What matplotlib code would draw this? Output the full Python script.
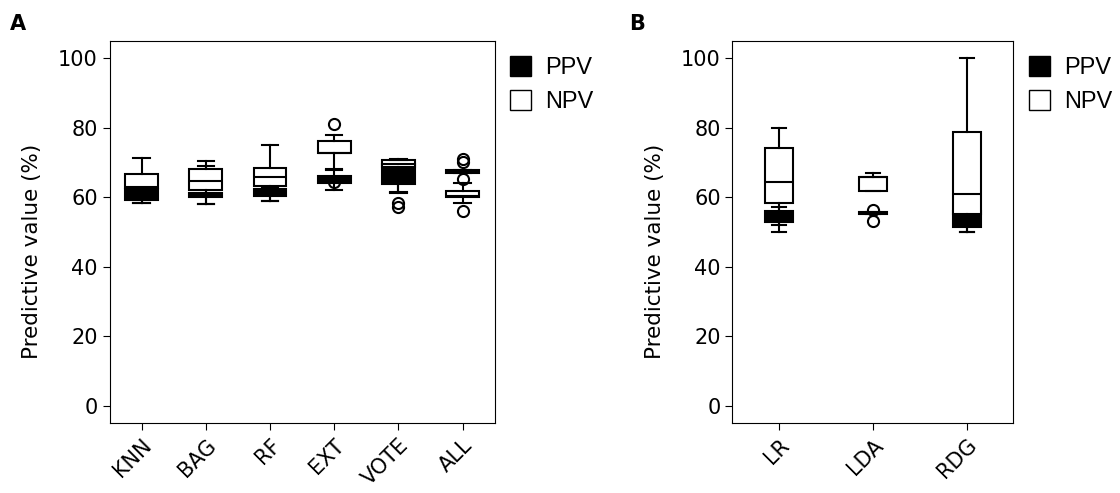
import matplotlib
matplotlib.use('Agg')
import matplotlib.pyplot as plt
from matplotlib.patches import Patch

# Panel A: classifier ensembles
models_a = ["KNN", "BAG", "RF", "EXT", "VOTE", "ALL"]
# box stats (whislo, q1, med, q3, whishi)
ppv_a_whislo = [58.3, 58.1, 59.1, 62.1, 61.5, 67.0]
ppv_a_q1 = [59.4, 60.2, 60.4, 64.2, 64.0, 67.0]
ppv_a_med = [61.0, 61.0, 61.5, 65.5, 66.5, 67.5]
ppv_a_q3 = [62.5, 61.4, 62.3, 66.2, 69.5, 67.9]
ppv_a_whishi = [63.5, 69.0, 63.0, 68.0, 71.1, 67.9]
ppv_a_fliers = [[], [], [], [], [], [71.2, 70.3]]

npv_a_whislo = [58.3, 58.1, 59.1, 68.3, 61.2, 58.3]
npv_a_q1 = [62.8, 62.2, 63.3, 72.8, 68.8, 60.2]
npv_a_med = [63.0, 64.8, 65.8, 72.8, 69.6, 60.5]
npv_a_q3 = [66.6, 68.1, 68.6, 76.1, 70.9, 61.9]
npv_a_whishi = [71.3, 70.4, 75.1, 77.9, 70.9, 64.2]
npv_a_fliers = [[], [], [], [81.0, 64.4], [58.3, 57.3], [65.3, 56.1]]

# Panel B: linear models
models_b = ["LR", "LDA", "RDG"]
ppv_b_whislo = [50.0, 55.1, 50.0]
ppv_b_q1 = [53.0, 55.1, 51.6]
ppv_b_med = [54.5, 55.4, 53.0]
ppv_b_q3 = [56.0, 55.7, 56.0]
ppv_b_whishi = [57.1, 55.7, 56.0]
ppv_b_fliers = [[], [56.3, 53.2], []]

npv_b_whislo = [52.1, 61.9, 50.0]
npv_b_q1 = [58.4, 61.9, 55.2]
npv_b_med = [64.4, 66.0, 61.0]
npv_b_q3 = [74.2, 66.0, 78.8]
npv_b_whishi = [80.1, 67.1, 100.0]
npv_b_fliers = [[], [], []]


def make_stats(whislo, q1, med, q3, whishi, fliers):
    return [dict(whislo=a, q1=b, med=c, q3=d, whishi=e, fliers=f)
            for a, b, c, d, e, f in zip(whislo, q1, med, q3, whishi, fliers)]


def draw_panel(ax, labels, ppv, npv, width, label_x):
    lw = 1.5
    common = dict(patch_artist=True, widths=width, showfliers=True,
                  whiskerprops=dict(color='black', linewidth=lw),
                  capprops=dict(color='black', linewidth=lw),
                  medianprops=dict(color='black', linewidth=lw))
    ax.bxp(ppv, boxprops=dict(facecolor='black', edgecolor='black', linewidth=lw),
           flierprops=dict(marker='o', markerfacecolor='none', markeredgecolor='black',
                           markersize=8, markeredgewidth=1.5),
           zorder=2, **common)
    ax.bxp(npv, boxprops=dict(facecolor='white', edgecolor='black', linewidth=lw),
           flierprops=dict(marker='o', markerfacecolor='none', markeredgecolor='black',
                           markersize=8, markeredgewidth=1.5),
           zorder=3, **common)
    ax.set_xlim(0.5, len(labels) + 0.5)
    ax.set_ylim(-5, 105)
    ax.set_yticks([0, 20, 40, 60, 80, 100])
    ax.set_xticks(range(1, len(labels) + 1))
    ax.set_xticklabels(labels, rotation=45, ha='right', rotation_mode='anchor')
    ax.tick_params(labelsize=15, length=5)
    ax.set_ylabel("Predictive value (%)", fontsize=15.5)
    ax.yaxis.set_label_coords(label_x, 0.45)
    handles = [Patch(facecolor='black', edgecolor='black', label='PPV'),
               Patch(facecolor='white', edgecolor='black', label='NPV')]
    ax.legend(handles=handles, loc='upper left', bbox_to_anchor=(1.0, 1.0),
              frameon=False, handlelength=0.9, handleheight=0.9,
              handletextpad=0.6, borderaxespad=0.25, labelspacing=0.45,
              prop={'family': 'Liberation Sans', 'size': 17})


fig = plt.figure(figsize=(11.2, 4.93), dpi=100)
ax_a = fig.add_axes([0.0978, 0.1416, 0.3438, 0.775])
ax_b = fig.add_axes([0.654, 0.1416, 0.2509, 0.775])

draw_panel(ax_a, models_a,
           make_stats(ppv_a_whislo, ppv_a_q1, ppv_a_med, ppv_a_q3, ppv_a_whishi, ppv_a_fliers),
           make_stats(npv_a_whislo, npv_a_q1, npv_a_med, npv_a_q3, npv_a_whishi, npv_a_fliers),
           0.51, -0.175)
draw_panel(ax_b, models_b,
           make_stats(ppv_b_whislo, ppv_b_q1, ppv_b_med, ppv_b_q3, ppv_b_whishi, ppv_b_fliers),
           make_stats(npv_b_whislo, npv_b_q1, npv_b_med, npv_b_q3, npv_b_whishi, npv_b_fliers),
           0.3, -0.24)

fig.text(0.009, 0.94, "A", fontsize=15, fontweight='bold')
fig.text(0.562, 0.94, "B", fontsize=15, fontweight='bold')

fig.savefig("out.png", dpi=100)
